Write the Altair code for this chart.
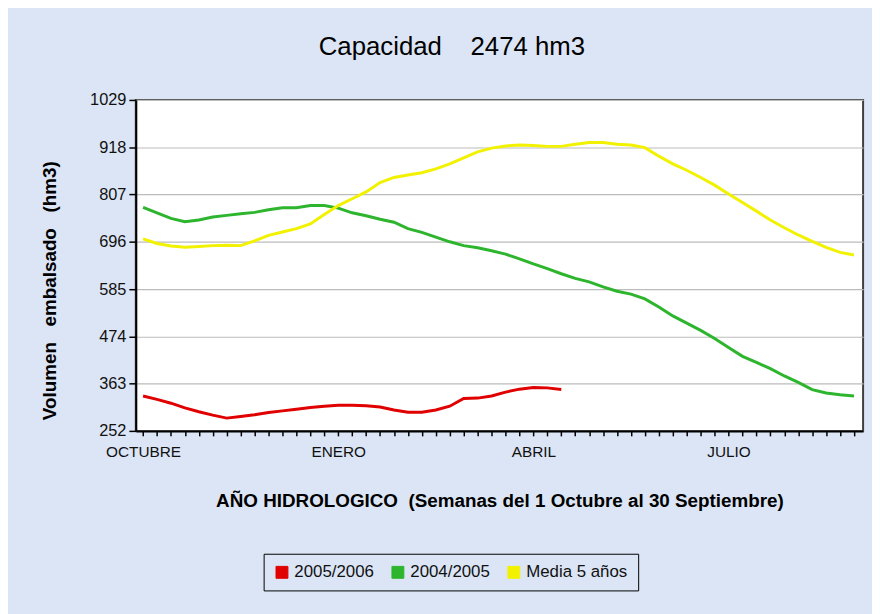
import altair as alt
import pandas as pd

# ---- data ----
weeks = list(range(1, 53))

serie_2005_2006 = [334, 326, 317, 306, 297, 289, 282, 286, 290, 295, 299, 303, 307, 310,
                   312, 312, 311, 308, 301, 296, 296, 301, 310, 328, 329, 334, 343, 350,
                   354, 353, 349]

serie_2004_2005 = [777, 764, 751, 743, 747, 754, 758, 762, 765, 771, 776, 776, 781, 781,
                   775, 764, 757, 749, 742, 727, 718, 707, 696, 687, 682, 675, 667, 656,
                   644, 633, 621, 610, 602, 590, 580, 573, 562, 543, 522, 505, 488, 469,
                   448, 427, 413, 398, 381, 366, 349, 341, 337, 334]

media_5_anos = [703, 692, 686, 683, 685, 687, 688, 687, 698, 711, 719, 727, 738, 760,
                781, 797, 813, 835, 847, 853, 858, 867, 879, 893, 907, 916, 921, 923,
                922, 920, 920, 925, 929, 929, 925, 923, 917, 897, 879, 864, 847, 829,
                808, 788, 768, 747, 729, 712, 697, 683, 671, 665]

series_names = ["2005/2006", "2004/2005", "Media 5 años"]
series_colors = ["#e00000", "#2db52d", "#f2f200"]
y_ticks = [252, 363, 474, 585, 696, 807, 918, 1029]
month_weeks = [1, 15, 29, 43]
month_names = ["OCTUBRE", "ENERO", "ABRIL", "JULIO"]

rows = []
for name, vals in zip(series_names, [serie_2005_2006, serie_2004_2005, media_5_anos]):
    for w, v in zip(weeks, vals):
        rows.append({"semana": w, "volumen": v, "serie": name})
df = pd.DataFrame(rows)
legend_df = pd.DataFrame({"serie": series_names})

label_expr = " : ".join(
    f"datum.value == {w} ? '{n}'" for w, n in zip(month_weeks, month_names)
) + " : ''"

FONT = "Liberation Sans"
NB = "\u00a0"

color_scale = alt.Scale(domain=series_names, range=series_colors)

x_enc = alt.X(
    "semana:Q",
    scale=alt.Scale(domain=[0.48, 52.65], nice=False, zero=False),
    axis=alt.Axis(
        values=weeks, tickCount=60, labelExpr=label_expr, labelOverlap=False, grid=False,
        tickSize=5, tickColor="black", tickWidth=1.5,
        domainColor="black", domainWidth=2,
        labelPadding=9, labelFontSize=15.5, labelFont=FONT, labelColor="#111",
        title=f"AÑO HIDROLOGICO{NB}{NB}(Semanas del 1 Octubre al 30 Septiembre)",
        titleFont=FONT, titleFontSize=19, titleFontWeight="bold", titleColor="black",
        titleBaseline="alphabetic", titleY=76,
    ),
)
y_enc = alt.Y(
    "volumen:Q",
    scale=alt.Scale(domain=[252, 1029], nice=False, zero=False),
    axis=alt.Axis(
        values=y_ticks, tickCount=20, format="d", grid=True, gridColor="#bcbcbc", gridWidth=1.2,
        tickSize=7, tickColor="black", tickWidth=1.5,
        domainColor="black", domainWidth=2,
        labelPadding=3, labelFontSize=16.5, labelFont=FONT, labelColor="#111",
        title=f"Volumen{NB}{NB}{NB}embalsado{NB}{NB}{NB}(hm3)",
        titleFont=FONT, titleFontSize=19, titleFontWeight="bold", titleColor="black",
        titleX=-87, titleY=192, titleAlign="center", titleBaseline="middle",
    ),
)

# invisible filled squares (first layer) that define the filled-square legend
legend_layer = alt.Chart(legend_df).mark_square(
    filled=True, size=144, opacity=0, stroke="black", strokeWidth=1
).encode(
    color=alt.Color(
        "serie:N",
        scale=color_scale,
        legend=alt.Legend(
            title=None, orient="none", legendX=129, legendY=458, direction="horizontal",
            symbolType="square", symbolSize=144, symbolStrokeColor="black",
            symbolStrokeWidth=1, symbolOpacity=1,
            labelFont=FONT, labelFontSize=17, labelColor="#111",
            labelOffset=4, columnPadding=15, padding=10, strokeColor="black",
        ),
    ),
)

lines = alt.Chart(df).mark_line(strokeWidth=3).encode(
    x=x_enc,
    y=y_enc,
    color=alt.Color("serie:N", scale=color_scale),
)

chart = alt.layer(legend_layer, lines).properties(
    width=734,
    height=334,
    background="#dbe5f5",
    padding={"left": 129, "top": 90, "right": 9, "bottom": 182},
    autosize=alt.AutoSizeParams(type="none"),
    title=alt.TitleParams(
        text=f"Capacidad{NB}{NB}{NB}{NB}2474 hm3",
        font=FONT, fontSize=26, fontWeight="normal", color="black",
        anchor="middle", dx=-48, offset=11, baseline="alphabetic",
    ),
).configure_view(
    stroke="#404040", strokeWidth=2, fill="white"
)

chart.save("out.html", embed_options={"renderer": "svg", "actions": False})
